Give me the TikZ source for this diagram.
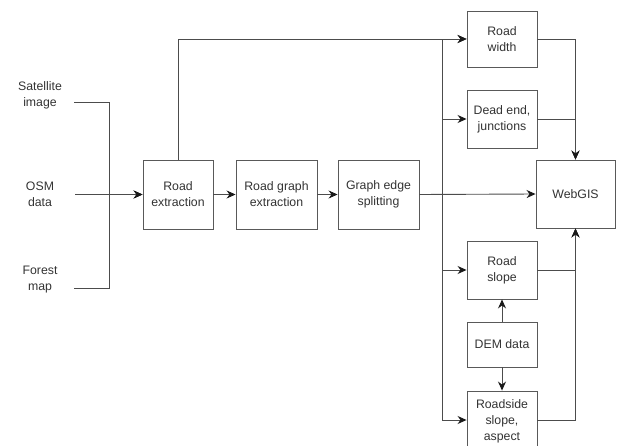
\documentclass[tikz,border=0pt]{standalone}
\usepackage{fontspec}
\setmainfont{Liberation Sans}
\usetikzlibrary{arrows.meta}
\begin{document}
\begin{tikzpicture}[x=1pt,y=-1pt,
  box/.style={draw=black!65, line width=0.9pt, fill=white, align=center, inner sep=1pt,
     text=black!80, font=\fontsize{12.3}{16}\selectfont},
  lbl/.style={align=center, text=black!80, font=\fontsize{12.3}{16}\selectfont, inner sep=0pt},
  ln/.style={draw=black!70, line width=0.9pt},
  arr/.style={ln, -{Stealth[length=9pt,width=8pt,inset=3pt,color=black!90]}}]
\useasboundingbox (0,0) rectangle (617,446);
% boxes
\node[box, minimum width=70, minimum height=69] (re) at (178,194.5) {Road\\extraction};
\node[box, minimum width=81, minimum height=69] (rg) at (276.5,194.5) {Road graph\\extraction};
\node[box, minimum width=81, minimum height=69] (ge) at (378.5,194.5) {Graph edge\\splitting};
\node[box, minimum width=70, minimum height=56] (rw) at (502,39) {Road\\width};
\node[box, minimum width=70, minimum height=58] (de) at (502,119) {Dead end,\\junctions};
\node[box, minimum width=79, minimum height=68] (wg) at (575.5,194) {WebGIS};
\node[box, minimum width=70, minimum height=58] (rs) at (502,270) {Road\\slope};
\node[box, minimum width=70, minimum height=45] (dem) at (502,344.5) {DEM data};
\node[box, minimum width=70, minimum height=58, text depth=0pt] (ra) at (502,420) {Roadside\\slope,\\aspect};
% inputs
\node[lbl] (sat) at (40,95) {Satellite\\image};
\node[lbl] (osm) at (40,194) {OSM\\data};
\node[lbl] (for) at (40,280) {Forest\\map};
\coordinate (satout) at (74,102);
\coordinate (osmout) at (75,194.5);
\coordinate (forout) at (74,288);
\coordinate (join) at (109,194.5);
\coordinate (bus) at (442,194.5);
% input connectors
\draw[ln] (satout) -| (join);
\draw[ln] (forout) -| (join);
\draw[arr] (osmout) -- (re.west);
\draw[arr] (join) -- (re.west);
% chain
\draw[arr] (re) -- (rg);
\draw[arr] (rg) -- (ge);
\draw[arr] (re.north) |- (rw.west);
\draw[arr] (ge.east) -- (wg.west);
\draw[arr] (bus) |- (rw.west);
\draw[arr] (bus) |- (de.west);
\draw[arr] (bus) |- (rs.west);
\draw[arr] (bus) |- (ra.west);
% to WebGIS
\draw[arr] (rw.east) -| (wg.north);
\draw[arr] (de.east) -| (wg.north);
\draw[arr] (rs.east) -| (wg.south);
\draw[arr] (ra.east) -| (wg.south);
% DEM
\draw[arr] (dem.north) -- (rs.south);
\draw[arr] (dem.south) -- (ra.north);
\end{tikzpicture}
\end{document}
